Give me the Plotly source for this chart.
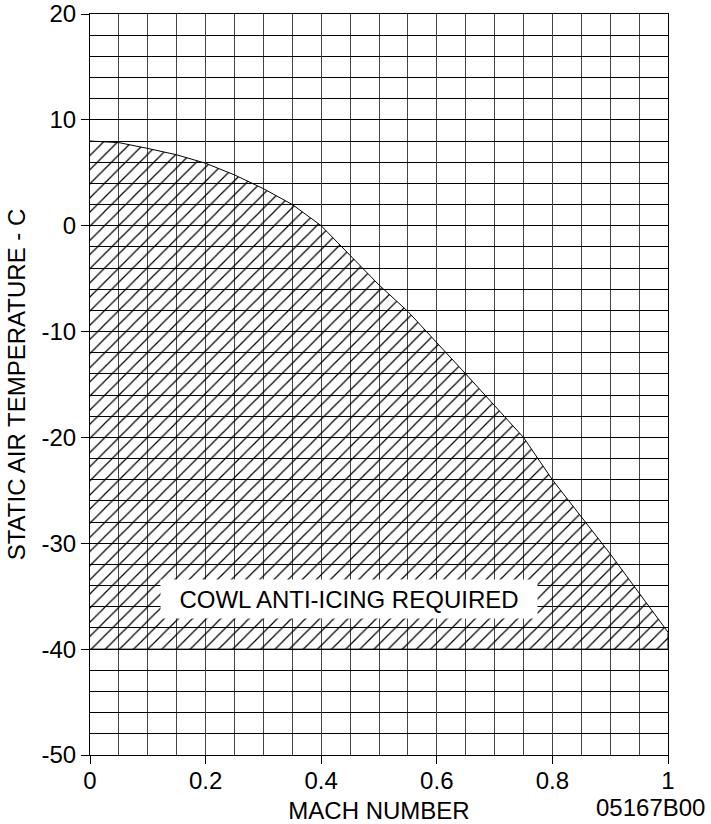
import plotly.graph_objects as go

# Boundary of the cowl anti-icing region
mach = [0.0, 0.05, 0.10, 0.15, 0.20, 0.25, 0.30, 0.35, 0.40, 0.45, 0.50,
        0.55, 0.60, 0.65, 0.70, 0.75, 0.80, 0.85, 0.90, 0.95, 1.0]
temp_c = [8.0, 7.85, 7.3, 6.7, 5.9, 4.8, 3.5, 2.0, 0.0, -2.8, -5.6,
          -8.1, -11.0, -14.0, -17.0, -20.0, -24.0, -27.5, -31.0, -34.7, -38.4]
floor_temp = -40.0

x_ticks = [0, 0.2, 0.4, 0.6, 0.8, 1]
x_tick_labels = ["0", "0.2", "0.4", "0.6", "0.8", "1"]
y_ticks = [-50, -40, -30, -20, -10, 0, 10, 20]
y_tick_labels = ["-50", "-40", "-30", "-20", "-10", "0", "10", "20"]

region_label = "COWL ANTI-ICING REQUIRED"
figure_code = "05167B00"

FONT = "Liberation Sans, Arial, sans-serif"
FS = 24

poly_x = mach + [mach[-1], mach[0]]
poly_y = temp_c + [floor_temp, floor_temp]

fig = go.Figure()
fig.add_trace(go.Scatter(
    x=poly_x, y=poly_y,
    mode="lines",
    fill="toself",
    fillcolor="rgba(0,0,0,0)",
    fillpattern=dict(shape="/", fgcolor="black", bgcolor="rgba(0,0,0,0)",
                     size=10, solidity=0.12, fillmode="replace"),
    line=dict(color="black", width=1),
    hoverinfo="skip",
    showlegend=False,
))

fig.add_annotation(
    x=0.448, y=-35.26, xref="x", yref="y",
    text=region_label, showarrow=False,
    font=dict(family=FONT, size=FS, color="black"),
    bgcolor="white", width=376, height=38, borderpad=0,
)
fig.add_annotation(
    x=0.969, y=-0.0715, xref="paper", yref="paper",
    xanchor="center", yanchor="middle",
    text=figure_code, showarrow=False,
    font=dict(family=FONT, size=FS, color="black"),
)

fig.update_layout(
    width=711, height=824,
    margin=dict(l=90, r=43, t=14, b=69, autoexpand=False),
    paper_bgcolor="white", plot_bgcolor="white",
    font=dict(family=FONT, size=FS, color="black"),
    showlegend=False,
    xaxis=dict(
        range=[0, 1], tickvals=x_ticks, ticktext=x_tick_labels,
        ticks="outside", ticklen=8, tickcolor="black", tickwidth=1,
        ticklabelstandoff=-4, ticklabeloverflow="allow",
        showgrid=True, gridcolor="#444", gridwidth=1,
        minor=dict(dtick=0.05, tick0=0, showgrid=True, gridcolor="#444", gridwidth=1, ticks=""),
        showline=True, mirror=True, linecolor="black", linewidth=1,
        zeroline=False, automargin=False,
        title=dict(text="MACH NUMBER", standoff=10, font=dict(size=FS)),
        tickfont=dict(size=FS),
    ),
    yaxis=dict(
        range=[-50, 20], tickvals=y_ticks, ticktext=y_tick_labels,
        ticks="outside", ticklen=8, tickcolor="black", tickwidth=1,
        ticklabeloverflow="allow",
        showgrid=True, gridcolor="black", gridwidth=1,
        minor=dict(dtick=2, tick0=0, showgrid=True, gridcolor="black", gridwidth=1, ticks=""),
        showline=True, mirror=True, linecolor="black", linewidth=1,
        zeroline=False, automargin=False,
        title=dict(text="STATIC AIR TEMPERATURE - C", standoff=9, font=dict(size=FS)),
        tickfont=dict(size=FS),
    ),
)

fig.write_html("out.html", config={"displayModeBar": False},
               post_script="document.body.style.margin='0';")
